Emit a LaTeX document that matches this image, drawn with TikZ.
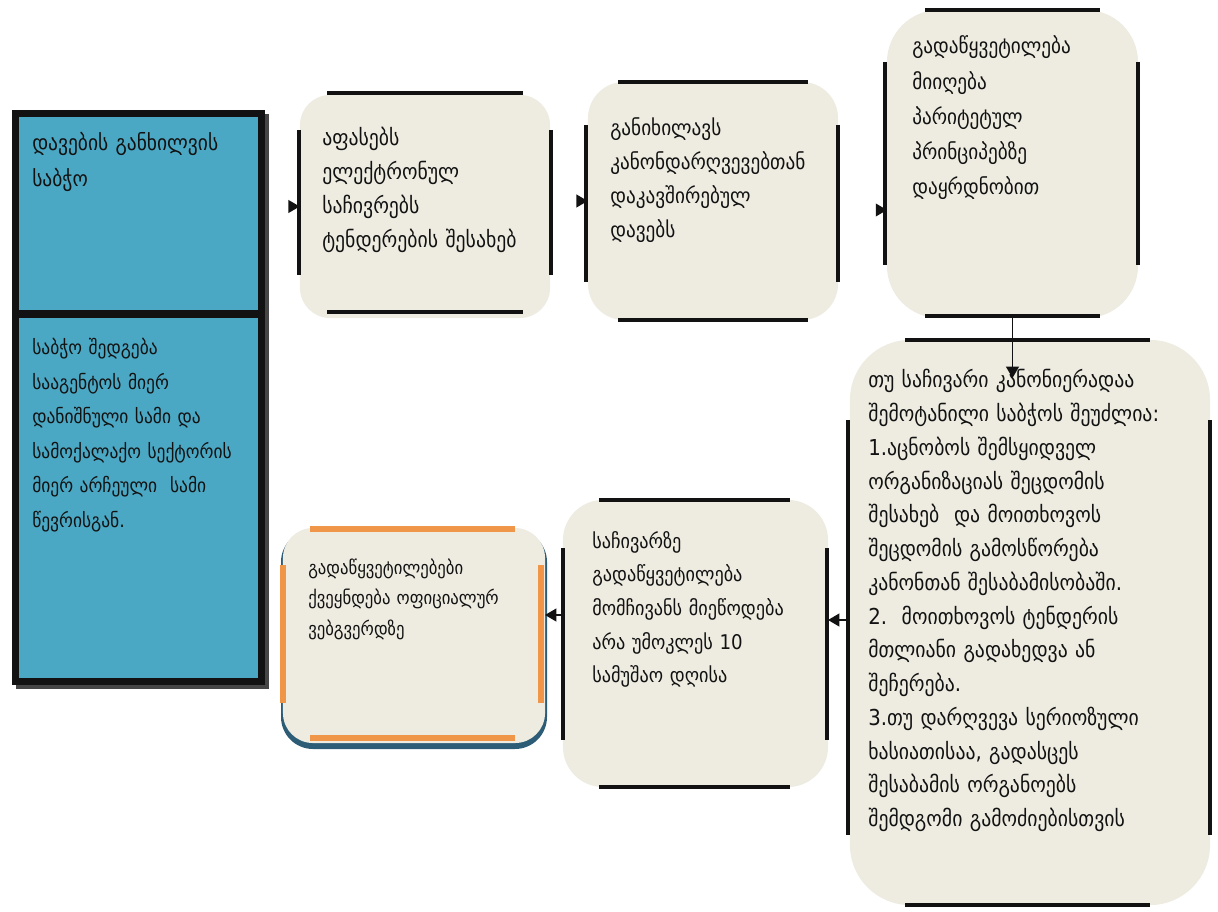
\documentclass[tikz,border=0pt]{standalone}
\usepackage{fontspec}
\setmainfont{DejaVu Sans Condensed}
\usepackage{tikz}
\usepackage{xcolor}
\usetikzlibrary{arrows.meta}

\begin{document}
\begin{tikzpicture}[x={0.025cm}, y={-0.025cm},
		panel/.style={fill={PANEL_BEIGE!100}, inner sep={0pt}},
		section/.style={draw, line width={5.5pt}, color={ALMOST_BLACK!100}, fill={BOARD_BLUE!100}, inner sep={0pt}},
		boxtext/.style={anchor={base west}, inner sep={0pt}, align={left}, text width={9cm}, text={ALMOST_BLACK!100}, font={\fontsize{15.2pt}{24pt}\selectfont}},
		rule/.style={line width={3.3pt}, color={ALMOST_BLACK!100}},
		orangerule/.style={line width={3.6pt}, color={FRAME_ORANGE!100}},
		link/.style={line width={1.3pt}, color={ALMOST_BLACK!100}, -{Triangle[length={8pt}, width={9pt}]}},
		tiponly/.style={line width={1.3pt}, color={WHITE!100}, shorten <={0.3cm}, -{Triangle[length={8pt}, width={9pt}, color={ALMOST_BLACK!100}]}}
	]
				\definecolor{WHITE}{RGB}{255, 255, 255}
				\definecolor{ALMOST_BLACK}{RGB}{18, 18, 18}
				\definecolor{SHADOW_GRAY}{RGB}{70, 70, 70}
				\definecolor{BOARD_BLUE}{RGB}{75, 168, 196}
				\definecolor{PANEL_BEIGE}{RGB}{238, 236, 225}
				\definecolor{FRAME_ORANGE}{RGB}{240, 150, 72}
				\definecolor{FRAME_TEAL}{RGB}{44, 92, 118}
				\useasboundingbox ( 0.000,  0.000) rectangle ( 1218.000,  912.000);
				
				\begin{scope}[draw]
					\fill[color={SHADOW_GRAY!100}] ( 16.000,  114.000) rectangle ( 269.000,  689.000);
					\node[section, minimum width={6.150cm}, minimum height={5.0125cm}] (board) at ( 138.500,  213.750) {};
					\node[section, minimum width={6.150cm}, minimum height={9.1875cm}] (boardinfo) at ( 138.500,  497.750) {};
					\node[boxtext, font={\fontsize{15.4pt}{25pt}\selectfont}] (boardtext) at ( 32.000,  151.000) {დავების განხილვის\\საბჭო};
					\node[boxtext, font={\fontsize{13.8pt}{24.5pt}\selectfont}] (boardinfotext) at ( 32.000,  355.000) {საბჭო შედგება\\სააგენტოს მიერ\\დანიშნული სამი და\\სამოქალაქო სექტორის\\მიერ არჩეული\ \ სამი\\წევრისგან.};
				\end{scope}
				
				\begin{scope}[draw]
					\node[panel, rounded corners={0.75cm}, minimum width={6.250cm}, minimum height={5.575cm}] (appraise) at ( 425.000,  206.500) {};
					\draw[rule] ( 327.000,  93.000) -- ( 523.000,  93.000);
					\draw[rule] ( 327.000,  312.000) -- ( 523.000,  312.000);
					\draw[rule] ( 299.000,  130.000) -- ( 299.000,  275.000);
					\draw[rule] ( 551.000,  130.000) -- ( 551.000,  275.000);
					\node[boxtext, font={\fontsize{15.6pt}{24pt}\selectfont}] (appraisetext) at ( 322.000,  146.000) {აფასებს\\ელექტრონულ\\საჩივრებს\\ტენდერების შესახებ};
				\end{scope}
				
				\begin{scope}[draw]
					\node[panel, rounded corners={0.9cm}, minimum width={6.250cm}, minimum height={5.950cm}] (review) at ( 713.000,  201.000) {};
					\draw[rule] ( 618.000,  82.000) -- ( 808.000,  82.000);
					\draw[rule] ( 618.000,  320.000) -- ( 808.000,  320.000);
					\draw[rule] ( 586.000,  125.000) -- ( 586.000,  282.000);
					\draw[rule] ( 838.000,  125.000) -- ( 838.000,  282.000);
					\node[boxtext] (reviewtext) at ( 610.000,  136.000) {განიხილავს\\კანონდარღვევებთან\\დაკავშირებულ\\დავებს};
				\end{scope}
				
				\begin{scope}[draw]
					\node[panel, rounded corners={1.3cm}, minimum width={6.275cm}, minimum height={7.700cm}] (decision) at ( 1012.500,  164.000) {};
					\draw[rule] ( 925.000,  10.000) -- ( 1100.000,  10.000);
					\draw[rule] ( 925.000,  316.000) -- ( 1100.000,  316.000);
					\draw[rule] ( 885.000,  62.000) -- ( 885.000,  265.000);
					\draw[rule] ( 1138.000,  62.000) -- ( 1138.000,  265.000);
					\node[boxtext, font={\fontsize{15.2pt}{25pt}\selectfont}] (decisiontext) at ( 912.000,  54.000) {გადაწყვეტილება\\მიიღება\\პარიტეტულ\\პრინციპებზე\\დაყრდნობით};
				\end{scope}
				
				\begin{scope}[draw]
					\node[panel, rounded corners={1.5cm}, minimum width={9.000cm}, minimum height={14.125cm}] (remedy) at ( 1030.000,  622.500) {};
					\draw[rule] ( 905.000,  340.000) -- ( 1150.000,  340.000);
					\draw[rule] ( 905.000,  905.000) -- ( 1150.000,  905.000);
					\draw[rule] ( 848.000,  420.000) -- ( 848.000,  835.000);
					\draw[rule] ( 1210.000,  420.000) -- ( 1210.000,  835.000);
					\node[boxtext, font={\fontsize{15.6pt}{24pt}\selectfont}] (remedytext) at ( 868.000,  388.000) {თუ საჩივარი კანონიერადაა\\შემოტანილი საბჭოს შეუძლია:\\1.აცნობოს შემსყიდველ\\ორგანიზაციას შეცდომის\\შესახებ\ \ და მოითხოვოს\\შეცდომის გამოსწორება\\კანონთან შესაბამისობაში.\\2.\ \ მოითხოვოს ტენდერის\\მთლიანი გადახედვა ან\\შეჩერება.\\3.თუ დარღვევა სერიოზული\\ხასიათისაა, გადასცეს\\შესაბამის ორგანოებს\\შემდგომი გამოძიებისთვის};
				\end{scope}
				
				\begin{scope}[draw]
					\node[panel, rounded corners={1.0cm}, minimum width={6.625cm}, minimum height={7.175cm}] (notice) at ( 695.500,  643.500) {};
					\draw[rule] ( 599.000,  500.000) -- ( 790.000,  500.000);
					\draw[rule] ( 599.000,  787.000) -- ( 790.000,  787.000);
					\draw[rule] ( 563.000,  548.000) -- ( 563.000,  740.000);
					\draw[rule] ( 827.000,  548.000) -- ( 827.000,  740.000);
					\node[boxtext, font={\fontsize{14.4pt}{24pt}\selectfont}] (noticetext) at ( 592.000,  548.000) {საჩივარზე\\გადაწყვეტილება\\მომჩივანს მიეწოდება\\არა უმოკლეს 10\\სამუშაო დღისა};
				\end{scope}
				
				\begin{scope}[draw]
					\fill[color={FRAME_TEAL!100}, rounded corners={0.8cm}] ( 281.000,  530.000) rectangle ( 547.000,  749.000);
					\node[panel, rounded corners={0.75cm}, minimum width={6.550cm}, minimum height={5.375cm}] (publish) at ( 414.000,  635.500) {};
					\draw[orangerule] ( 310.000,  529.000) -- ( 515.000,  529.000);
					\draw[orangerule] ( 310.000,  738.000) -- ( 515.000,  738.000);
					\draw[orangerule] ( 283.000,  565.000) -- ( 283.000,  703.000);
					\draw[orangerule] ( 541.000,  565.000) -- ( 541.000,  703.000);
					\node[boxtext, font={\fontsize{13.2pt}{22pt}\selectfont}] (publishtext) at ( 308.000,  574.000) {გადაწყვეტილებები\\ქვეყნდება ოფიციალურ\\ვებგვერდზე};
				\end{scope}
				
				\coordinate (decisionin) at ( 887.000,  210.000);
				\coordinate (remedyin) at ( 1012.500,  378.000);
				\coordinate (noticein) at ( 828.000,  620.000);
				\coordinate (publishin) at ( 545.000,  615.000);
				\draw[tiponly] (board.east |- appraise.west) -- (appraise.west);
				\draw[tiponly] (appraise.east |- review.west) -- (review.west);
				\draw[tiponly] (review.east |- decisionin) -- (decisionin);
				\draw[link] (decision.south) -- (remedyin);
				\draw[link] (remedy.west |- noticein) -- (noticein);
				\draw[link] (notice.west |- publishin) -- (publishin);
				
			\end{tikzpicture}
\end{document}
